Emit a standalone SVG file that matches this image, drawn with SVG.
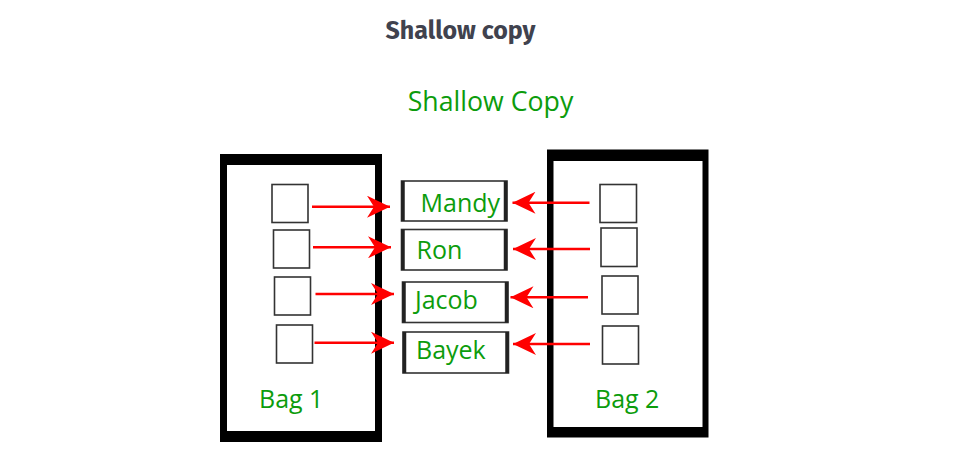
<svg xmlns="http://www.w3.org/2000/svg" width="966" height="459" viewBox="0 0 966 459">
<defs>
<marker id="ah" markerUnits="userSpaceOnUse" markerWidth="24" markerHeight="22" refX="23" refY="11" orient="auto">
<path d="M0,0 L23,11 L0,22 L7,11 Z" fill="#ff0000"/>
</marker>
<style>
.g{font-family:"Open Sans","Noto Sans",sans-serif;fill:#0c9c0c;font-size:25px;font-weight:500}
.sq{fill:#fff;stroke:#333;stroke-width:1.6}
.nb{fill:#fff;stroke:#333;stroke-width:1.6}
.edge{stroke:#222;stroke-width:3.5}
.ar{stroke:#ff0000;stroke-width:2.6;fill:none;marker-end:url(#ah)}
</style>
</defs>
<rect width="966" height="459" fill="#fff"/>
<text x="460.5" y="39" text-anchor="middle" font-family="'Fira Sans','Noto Sans','Open Sans',sans-serif" font-weight="bold" font-size="25" fill="#40424e">Shallow copy</text>
<text class="g" x="490.5" y="111" text-anchor="middle" style="font-size:26.7px">Shallow Copy</text>

<g id="bag1">
<rect x="220" y="154" width="162" height="288" fill="#000"/>
<rect x="227" y="165" width="148" height="266" fill="#fff"/>
<rect class="sq" x="272" y="184.5" width="36" height="38"/>
<rect class="sq" x="273.5" y="230" width="36" height="38"/>
<rect class="sq" x="274.5" y="277" width="36" height="38"/>
<rect class="sq" x="276.5" y="325" width="36" height="38"/>
<text class="g" x="259" y="408">Bag 1</text>
</g>

<g id="bag2">
<rect x="547" y="149.5" width="161.5" height="288" fill="#000"/>
<rect x="553.5" y="161" width="149" height="266" fill="#fff"/>
<rect class="sq" x="600" y="184.5" width="36.5" height="38"/>
<rect class="sq" x="601" y="228" width="36" height="38.5"/>
<rect class="sq" x="602" y="276" width="36" height="38"/>
<rect class="sq" x="602.5" y="326" width="36" height="38"/>
<text class="g" x="595" y="408">Bag 2</text>
</g>

<g id="mandy">
<rect class="nb" x="401.5" y="181" width="105.5" height="40"/>
<line class="edge" x1="403" y1="181" x2="403" y2="221"/>
<line class="edge" x1="505.5" y1="181" x2="505.5" y2="221"/>
<text class="g" x="420.5" y="212">Mandy</text>
</g>
<g id="ron">
<rect class="nb" x="401.5" y="229.5" width="105.5" height="40.5"/>
<line class="edge" x1="403" y1="229.5" x2="403" y2="270"/>
<line class="edge" x1="505.5" y1="229.5" x2="505.5" y2="270"/>
<text class="g" x="416.5" y="259">Ron</text>
</g>
<g id="jacob">
<rect class="nb" x="402.5" y="282" width="105.5" height="40.5"/>
<line class="edge" x1="404" y1="282" x2="404" y2="322.5"/>
<line class="edge" x1="506.5" y1="282" x2="506.5" y2="322.5"/>
<text class="g" x="415" y="308.5">Jacob</text>
</g>
<g id="bayek">
<rect class="nb" x="403" y="332" width="105.5" height="41"/>
<line class="edge" x1="404.5" y1="332" x2="404.5" y2="373"/>
<line class="edge" x1="507" y1="332" x2="507" y2="373"/>
<text class="g" x="416" y="358.5">Bayek</text>
</g>

<g id="connectors">
<line class="ar" x1="312" y1="206.7" x2="390" y2="206.7"/>
<line class="ar" x1="313" y1="247.3" x2="391" y2="247.3"/>
<line class="ar" x1="315.5" y1="294" x2="394" y2="294"/>
<line class="ar" x1="314.5" y1="342.7" x2="394" y2="342.7"/>
<line class="ar" x1="589.5" y1="202.7" x2="512.5" y2="202.7"/>
<line class="ar" x1="590" y1="249" x2="513" y2="249"/>
<line class="ar" x1="588" y1="297.3" x2="510.5" y2="297.3"/>
<line class="ar" x1="590" y1="344" x2="513" y2="344"/>
</g>
</svg>
